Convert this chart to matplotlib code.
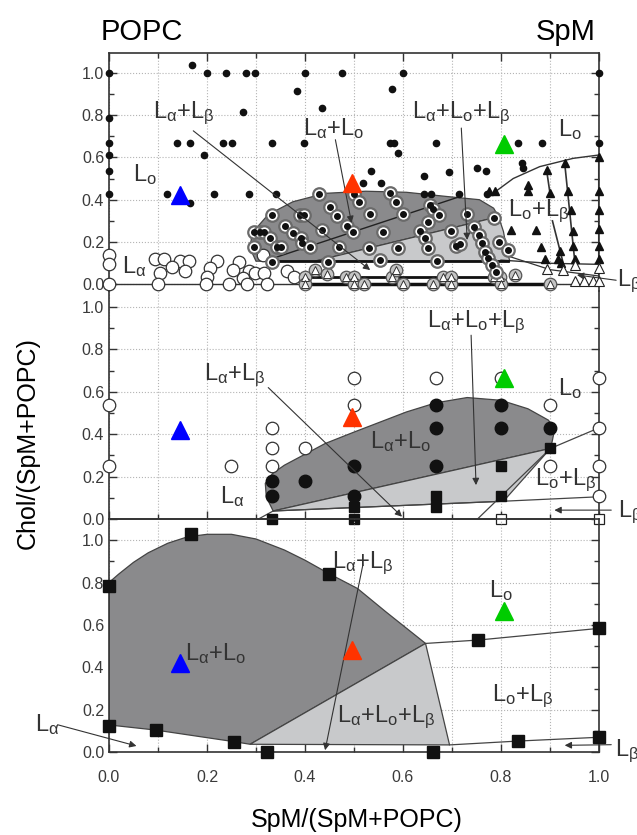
import matplotlib
matplotlib.use('Agg')
import matplotlib.pyplot as plt
from matplotlib.ticker import MultipleLocator

plt.rcParams['font.family'] = ['Liberation Sans', 'DejaVu Sans']
plt.rcParams['mathtext.fontset'] = 'custom'
plt.rcParams['mathtext.rm'] = 'Liberation Sans'
plt.rcParams['mathtext.it'] = 'Liberation Sans'

#   PROBE TRIANGLES (SAME IN EVERY PANEL)
probe_x = [0.145, 0.495, 0.807]
probe_y = [0.42, 0.48, 0.665]
probe_colors = ['#0000ff', '#ff3300', '#00cc00']

#   TOP PANEL DATA
top_dot_x = [0.169, 0, 0.2, 0.239, 0.279, 0.298, 0.4, 0.476, 0.601, 1.0, 0.383, 0.577, 0.434, 0.273,
             0, 0, 0.138, 0.165, 0.233, 0.25, 0.333, 0.397, 0.574, 0.582, 0.59, 0.667, 0.834, 0.883, 1.0,
             0, 0.194, 0, 0, 0.118, 0.165, 0.214, 0.286, 0.340, 0.534, 0.518, 0.555, 0.643, 0.693,
             0.750, 0.769, 0.842, 0.845, 0.642, 0.658, 0.715, 0.771]
top_dot_y = [1.035, 1, 1, 1, 1, 1, 1, 1, 1, 1, 0.913, 0.921, 0.831, 0.815,
             0.787, 0.666, 0.666, 0.666, 0.666, 0.666, 0.666, 0.666, 0.666, 0.666, 0.622, 0.666, 0.666, 0.666, 0.666,
             0.611, 0.611, 0.535, 0.425, 0.425, 0.386, 0.425, 0.425, 0.425, 0.534, 0.479, 0.479, 0.513, 0.532,
             0.548, 0.535, 0.571, 0.548, 0.425, 0.425, 0.425, 0.425]
top_ring_x = [0.429, 0.45, 0.466, 0.5, 0.511, 0.333, 0.39, 0.398, 0.359, 0.375, 0.434, 0.486, 0.497,
              0.296, 0.308, 0.317, 0.329, 0.296, 0.342, 0.352, 0.392, 0.394, 0.41, 0.469, 0.333, 0.446,
              0.573, 0.585, 0.533, 0.599, 0.655, 0.662, 0.674, 0.652, 0.560, 0.635, 0.645, 0.531, 0.589,
              0.650, 0.697, 0.708, 0.716, 0.731, 0.745, 0.756, 0.762, 0.768, 0.774, 0.786, 0.796, 0.815,
              0.669, 0.553, 0.782, 0.79]
top_ring_y = [0.425, 0.367, 0.323, 0.425, 0.391, 0.328, 0.328, 0.328, 0.277, 0.241, 0.257, 0.277, 0.249,
              0.246, 0.249, 0.246, 0.221, 0.178, 0.178, 0.178, 0.221, 0.194, 0.178, 0.175, 0.108, 0.108,
              0.430, 0.391, 0.331, 0.331, 0.375, 0.356, 0.328, 0.296, 0.249, 0.252, 0.218, 0.174, 0.174,
              0.174, 0.252, 0.183, 0.19, 0.331, 0.273, 0.233, 0.194, 0.155, 0.123, 0.312, 0.202, 0.163,
              0.111, 0.116, 0.09, 0.06]
top_open_x = [0, 0, 0, 0.094, 0.112, 0.145, 0.164, 0.128, 0.155, 0.104, 0.1, 0.22, 0.206, 0.2, 0.198,
              0.266, 0.286, 0.274, 0.298, 0.316, 0.322, 0.281, 0.244, 0.363, 0.378, 0.315, 0.254]
top_open_y = [0.139, 0.095, 0.0, 0.12, 0.12, 0.111, 0.111, 0.081, 0.064, 0.053, 0.0, 0.111, 0.076, 0.037, 0.0,
              0.108, 0.064, 0.032, 0.053, 0.053, 0.0, 0.0, 0.0, 0.064, 0.037, 0.139, 0.068]
top_ringtri_x = [0.40, 0.483, 0.5, 0.578, 0.681, 0.698, 0.785, 0.797,
                 0.40, 0.5, 0.52, 0.601, 0.661, 0.698, 0.801, 0.9, 0.829, 0.42, 0.445, 0.585]
top_ringtri_y = [0.035, 0.035, 0.035, 0.035, 0.035, 0.035, 0.035, 0.035,
                 0.0, 0.0, 0.0, 0.0, 0.0, 0.0, 0.0, 0.0, 0.045, 0.07, 0.05, 0.07]
top_tri_x = [0.788, 0.775, 0.856, 0.856, 0.893, 0.90, 0.93, 1.0, 0.821, 0.872, 0.882, 0.936, 0.943,
             0.946, 0.947, 0.95, 1.0, 1.0, 1.0, 1.0, 1.0, 0.917, 0.92, 0.923, 0.889]
top_tri_y = [0.44, 0.44, 0.47, 0.44, 0.54, 0.43, 0.572, 0.603, 0.257, 0.257, 0.178, 0.44, 0.35,
             0.25, 0.18, 0.12, 0.44, 0.35, 0.26, 0.18, 0.12, 0.12, 0.16, 0.1, 0.12]
top_otri_x = [0.893, 0.927, 0.951, 1.0, 0.951, 0.97, 0.987, 1.0]
top_otri_y = [0.075, 0.07, 0.09, 0.08, 0.015, 0.015, 0.015, 0.015]
top_dark_x = [0.30, 0.288, 0.292, 0.325, 0.375, 0.441, 0.524, 0.607, 0.690, 0.756, 0.785, 0.795, 0.42, 0.30]
top_dark_y = [0.11, 0.17, 0.243, 0.33, 0.39, 0.43, 0.44, 0.435, 0.415, 0.40, 0.36, 0.32, 0.11, 0.11]
top_light_x = [0.42, 0.795, 0.805, 0.812, 0.818]
top_light_y = [0.11, 0.32, 0.25, 0.16, 0.11]
top_lo_curve_x = [0.785, 0.825, 0.879, 0.947, 1.0]
top_lo_curve_y = [0.432, 0.50, 0.556, 0.595, 0.611]

#   MIDDLE PANEL DATA
mid_open_x = [0, 0, 0.249, 0.333, 0.333, 0.333, 0.4, 0.5, 0.5, 0.667, 0.8, 0.9, 0.9, 1.0, 1.0, 1.0, 1.0]
mid_open_y = [0.54, 0.25, 0.25, 0.43, 0.333, 0.25, 0.333, 0.667, 0.54, 0.667, 0.667, 0.54, 0.25, 0.667, 0.43, 0.25, 0.11]
mid_fill_x = [0.333, 0.333, 0.4, 0.5, 0.5, 0.667, 0.667, 0.667, 0.8, 0.8, 0.9]
mid_fill_y = [0.18, 0.11, 0.18, 0.25, 0.11, 0.54, 0.43, 0.25, 0.54, 0.43, 0.43]
mid_sq_x = [0.333, 0.5, 0.5, 0.667, 0.667, 0.8, 0.8, 0.9]
mid_sq_y = [0.0, 0.055, 0.0, 0.11, 0.055, 0.25, 0.11, 0.333]
mid_osq_x = [0.8, 1.0]
mid_osq_y = [0.0, 0.0]
mid_dark_x = [0.335, 0.321, 0.319, 0.334, 0.358, 0.441, 0.5, 0.607, 0.667, 0.731, 0.8, 0.855, 0.897, 0.909, 0.905, 0.901]
mid_dark_y = [0.038, 0.105, 0.168, 0.215, 0.254, 0.356, 0.41, 0.505, 0.548, 0.573, 0.56, 0.52, 0.466, 0.419, 0.372, 0.333]
mid_light_x = [0.335, 0.901, 0.805]
mid_light_y = [0.038, 0.333, 0.084]

#   BOTTOM PANEL DATA
bot_sq_x = [0.168, 0, 0.448, 0.754, 1.0, 0, 0.095, 0.256, 0.323, 0.662, 0.834, 1.0]
bot_sq_y = [1.028, 0.783, 0.838, 0.529, 0.584, 0.124, 0.105, 0.050, 0.0, 0.0, 0.053, 0.071]
bot_dark_x = [0, 0, 0.02, 0.05, 0.08, 0.12, 0.16, 0.2, 0.25, 0.30, 0.358, 0.40, 0.448, 0.507, 0.565,
              0.646, 0.288, 0.256, 0.095, 0]
bot_dark_y = [0.129, 0.80, 0.84, 0.895, 0.94, 0.985, 1.015, 1.027, 1.027, 1.005, 0.953, 0.905, 0.843,
              0.772, 0.662, 0.513, 0.038, 0.050, 0.105, 0.129]
bot_light_x = [0.288, 0.646, 0.695]
bot_light_y = [0.038, 0.513, 0.035]

ink = '#333333'
grid_col = '#b4b4b4'


def phase_label(ax, x, y, text):
    ax.text(x, y, text, fontsize=17, color=ink, ha='left', va='baseline', zorder=6, clip_on=False)


def arrow(ax, tail, head):
    ax.annotate('', xy=head, xytext=tail, annotation_clip=False, zorder=6,
                arrowprops=dict(arrowstyle='-|>', color=ink, lw=0.8, mutation_scale=10, shrinkA=0, shrinkB=0))


def style_axes(ax, ymin, ymax, xlabels=False):
    ax.set_xlim(0, 1)
    ax.set_ylim(ymin, ymax)
    ax.set_facecolor('none')
    ax.xaxis.set_major_locator(MultipleLocator(0.2))
    ax.xaxis.set_minor_locator(MultipleLocator(0.1))
    ax.yaxis.set_major_locator(MultipleLocator(0.2))
    ax.yaxis.set_minor_locator(MultipleLocator(0.1))
    ax.set_yticks([0.0, 0.2, 0.4, 0.6, 0.8, 1.0])
    ax.set_yticklabels(['0.0', '0.2', '0.4', '0.6', '0.8', '1.0'])
    ax.xaxis.grid(True, which='both', ls=':', color=grid_col, lw=0.8)
    ax.yaxis.grid(True, which='major', ls=':', color=grid_col, lw=0.8)
    ax.set_axisbelow(True)
    ax.tick_params(which='both', direction='in', left=True, right=True, colors=ink,
                   labelsize=11.5, labelcolor='#3a3a3a', width=1)
    ax.tick_params(which='major', length=6)
    ax.tick_params(which='minor', length=3.5)
    if xlabels:
        ax.set_xticks([0.0, 0.2, 0.4, 0.6, 0.8, 1.0])
        ax.set_xticklabels(['0.0', '0.2', '0.4', '0.6', '0.8', '1.0'])
        ax.tick_params(axis='x', pad=13)
    else:
        ax.tick_params(axis='x', labelbottom=False)
    for s in ax.spines.values():
        s.set_color(ink)
        s.set_linewidth(1.2)


def probes(ax):
    for px, py, pc in zip(probe_x, probe_y, probe_colors):
        ax.plot(px, py, marker='^', ms=13, color=pc, mec=pc, ls='none', zorder=7, clip_on=False)


fig = plt.figure(figsize=(6.37, 8.35), dpi=100)
left = 109 / 637
width = 490 / 637
ax1 = fig.add_axes([left, 0.6515, width, 0.285])
ax2 = fig.add_axes([left, 0.3784, width, 0.2731])
ax3 = fig.add_axes([left, 0.0990, width, 0.2794])

#   TOP PANEL
style_axes(ax1, -0.0307, 1.092)
ax1.tick_params(axis='x', which='both', top=True, bottom=False)
ax1.spines['bottom'].set_visible(False)
ax1.fill(top_dark_x, top_dark_y, color='#8a8a8c', ec='#444444', lw=0.9, zorder=1)
ax1.fill(top_light_x, top_light_y, color='#c8c9cb', ec='#444444', lw=0.9, zorder=1)
ax1.plot(top_lo_curve_x, top_lo_curve_y, color=ink, lw=1.0, zorder=2)
ax1.plot([0.33, 0.71], [0.12, 0.41], color='#222222', lw=1.0, zorder=2)
ax1.plot([0.80, 0.9, 1.0], [0.115, 0.10, 0.095], color=ink, lw=1.0, zorder=2)
ax1.plot([0.82, 0.9, 1.0], [0.13, 0.07, 0.04], color=ink, lw=0.9, zorder=2)
ax1.plot([0.893, 0.90], [0.54, 0.43], color=ink, lw=1.2, zorder=2)
ax1.plot([0.93, 0.951], [0.572, 0.10], color=ink, lw=1.2, zorder=2)
ax1.plot([0.905, 0.927], [0.30, 0.10], color=ink, lw=1.2, zorder=2)
ax1.plot([1.0, 1.0], [0.611, 0.0], color=ink, lw=1.5, zorder=2)
ax1.plot([0, 1], [0, 0], color=ink, lw=1.0, zorder=2, clip_on=False)
ax1.plot([0.33, 0.815], [0.11, 0.11], color='#111111', lw=2.0, zorder=2)
ax1.plot([0.40, 0.80], [0.035, 0.035], color='#111111', lw=2.0, zorder=2)
ax1.plot([0.40, 0.90], [0.0, 0.0], color='#111111', lw=2.5, zorder=2, clip_on=False)
ax1.plot(top_dot_x, top_dot_y, 'o', ms=4.5, color='#111111', zorder=4, clip_on=False)
ax1.plot(top_open_x, top_open_y, 'o', ms=9, mfc='white', mec='#333333', mew=0.9, zorder=3, clip_on=False)
ax1.plot(top_ringtri_x, top_ringtri_y, 'o', ms=9, mfc='#c4c4c4', mec='#555555', mew=0.9, zorder=3, clip_on=False)
ax1.plot(top_ringtri_x, top_ringtri_y, '^', ms=5.5, mfc='white', mec='#333333', mew=0.7, zorder=4, clip_on=False)
ax1.plot(top_ring_x, top_ring_y, 'o', ms=9, mfc='white', mec='#6a6a6a', mew=1.6, zorder=4)
ax1.plot(top_ring_x, top_ring_y, 'o', ms=4, color='#111111', zorder=5)
ax1.plot(top_tri_x, top_tri_y, '^', ms=6, color='#111111', zorder=4, clip_on=False)
ax1.plot(top_otri_x, top_otri_y, '^', ms=7, mfc='white', mec='#222222', mew=0.8, zorder=4, clip_on=False)
probes(ax1)
phase_label(ax1, 0.089, 0.785, r'L$_{\alpha}$+L$_{\mathrm{\beta}}$')
phase_label(ax1, 0.396, 0.706, r'L$_{\alpha}$+L$_{\mathrm{o}}$')
phase_label(ax1, 0.619, 0.785, r'L$_{\alpha}$+L$_{\mathrm{o}}$+L$_{\beta}$')
phase_label(ax1, 0.917, 0.70, r'L$_{\mathrm{o}}$')
phase_label(ax1, 0.048, 0.487, r'L$_{\mathrm{o}}$')
phase_label(ax1, 0.814, 0.322, r'L$_{\mathrm{o}}$+L$_{\beta}$')
phase_label(ax1, 0.026, 0.055, r'L$_{\alpha}$')
phase_label(ax1, 1.037, -0.008, r'L$_{\beta}$')
arrow(ax1, (0.172, 0.725), (0.533, 0.068))
arrow(ax1, (0.462, 0.683), (0.495, 0.29))
arrow(ax1, (0.719, 0.738), (0.731, 0.21))
arrow(ax1, (1.035, 0.02), (0.955, 0.045))

#   MIDDLE PANEL
style_axes(ax2, 0, 1.0755)
ax2.tick_params(axis='x', which='both', top=False, bottom=True)
ax2.spines['top'].set_visible(False)
ax2.fill(mid_dark_x, mid_dark_y, color='#8a8a8c', ec='#444444', lw=0.9, zorder=1)
ax2.fill(mid_light_x, mid_light_y, color='#c8c9cb', ec='#444444', lw=0.9, zorder=1)
ax2.plot([0.305, 0.335], [0.0, 0.038], color='#444444', lw=0.9, zorder=2)
ax2.plot([0.335, 0.805, 1.0], [0.038, 0.084, 0.105], color='#444444', lw=0.9, zorder=2)
ax2.plot([0.901, 0.752], [0.333, 0.0], color='#444444', lw=0.9, zorder=2)
ax2.plot([0.901, 1.0], [0.333, 0.43], color='#444444', lw=0.9, zorder=2)
ax2.plot(mid_open_x, mid_open_y, 'o', ms=9, mfc='white', mec='#333333', mew=0.9, zorder=4, clip_on=False)
ax2.plot(mid_fill_x, mid_fill_y, 'o', ms=9, color='#111111', zorder=4)
ax2.plot(mid_sq_x, mid_sq_y, 's', ms=7, color='#111111', zorder=4, clip_on=False)
ax2.plot(mid_osq_x, mid_osq_y, 's', ms=7, mfc='white', mec='#222222', mew=0.9, zorder=4, clip_on=False)
probes(ax2)
phase_label(ax2, 0.648, 0.906, r'L$_{\alpha}$+L$_{\mathrm{o}}$+L$_{\beta}$')
phase_label(ax2, 0.193, 0.655, r'L$_{\alpha}$+L$_{\beta}$')
phase_label(ax2, 0.917, 0.584, r'L$_{\mathrm{o}}$')
phase_label(ax2, 0.532, 0.333, r'L$_{\alpha}$+L$_{\mathrm{o}}$')
phase_label(ax2, 0.87, 0.16, r'L$_{\mathrm{o}}$+L$_{\beta}$')
phase_label(ax2, 0.226, 0.074, r'L$_{\alpha}$')
phase_label(ax2, 1.039, 0.011, r'L$_{\beta}$')
arrow(ax2, (0.325, 0.62), (0.598, 0.011))
arrow(ax2, (0.739, 0.867), (0.749, 0.16))
arrow(ax2, (1.025, 0.042), (0.909, 0.042))

#   BOTTOM PANEL
style_axes(ax3, 0, 1.099, xlabels=True)
ax3.tick_params(axis='x', which='both', top=False, bottom=True)
ax3.fill(bot_dark_x, bot_dark_y, color='#8a8a8c', ec='#444444', lw=0.9, zorder=1)
ax3.fill(bot_light_x, bot_light_y, color='#c8c9cb', ec='#444444', lw=0.9, zorder=1)
ax3.plot([0.646, 0.754, 1.0], [0.513, 0.529, 0.584], color='#444444', lw=0.9, zorder=2)
ax3.plot([0.695, 0.834, 1.0], [0.035, 0.053, 0.071], color='#444444', lw=0.9, zorder=2)
ax3.plot(bot_sq_x, bot_sq_y, 's', ms=8, color='#111111', zorder=4, clip_on=False)
probes(ax3)
phase_label(ax3, 0.455, 0.87, r'L$_{\alpha}$+L$_{\beta}$')
phase_label(ax3, 0.776, 0.733, r'L$_{\mathrm{o}}$')
phase_label(ax3, 0.156, 0.435, r'L$_{\alpha}$+L$_{\mathrm{o}}$')
phase_label(ax3, 0.781, 0.239, r'L$_{\mathrm{o}}$+L$_{\beta}$')
phase_label(ax3, 0.466, 0.144, r'L$_{\alpha}$+L$_{\mathrm{o}}$+L$_{\beta}$')
phase_label(ax3, -0.151, 0.10, r'L$_{\alpha}$')
phase_label(ax3, 1.033, -0.02, r'L$_{\beta}$')
arrow(ax3, (0.518, 0.882), (0.441, 0.01))
arrow(ax3, (-0.105, 0.13), (0.056, 0.03))
arrow(ax3, (1.025, 0.036), (0.93, 0.033))

#   FIGURE TEXT
fig.text(101 / 637, 1 - 32 / 835, 'POPC', fontsize=21, color='black', ha='left', va='center')
fig.text(596 / 637, 1 - 32 / 835, 'SpM', fontsize=21, color='black', ha='right', va='center')
fig.text(28 / 637, 1 - 443 / 835, 'Chol/(SpM+POPC)', fontsize=18, rotation=90, ha='center', va='center')
fig.text(357 / 637, 1 - 820 / 835, 'SpM/(SpM+POPC)', fontsize=18, ha='center', va='center')

fig.savefig('out.png', dpi=100)
